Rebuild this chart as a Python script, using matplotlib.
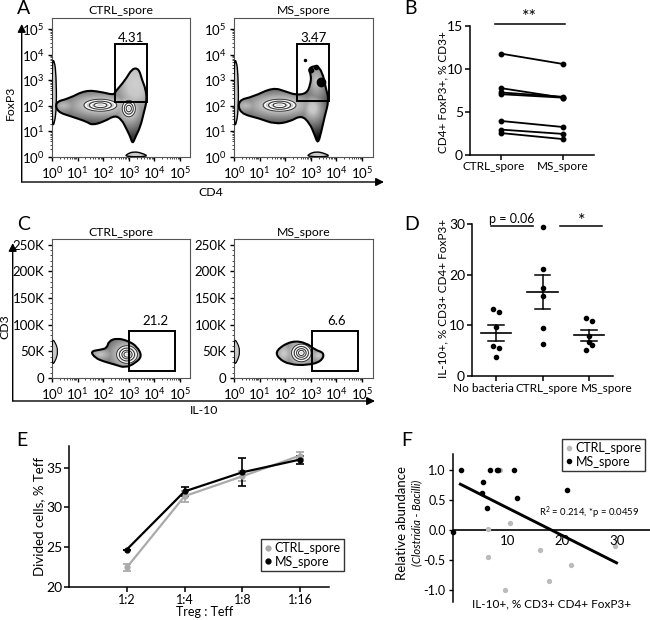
import numpy as np
import matplotlib
matplotlib.use('Agg')
import matplotlib.pyplot as plt
from matplotlib.lines import Line2D
from matplotlib.patches import PathPatch, Rectangle
from matplotlib.path import Path

plt.rcParams['font.family'] = ['Lato', 'DejaVu Sans']
plt.rcParams['mathtext.default'] = 'regular'
plt.rcParams['font.size'] = 9

W, H = 650, 620

# panel B
groups_b = ['CTRL_spore', 'MS_spore']
foxp3_ctrl = [11.8, 7.8, 7.3, 7.1, 4.0, 3.0, 2.6]
foxp3_ms = [10.6, 6.7, 6.8, 6.7, 3.3, 2.5, 1.9]

# panel D
groups_d = ['No bacteria', 'CTRL_spore', 'MS_spore']
il10_none = [13.15, 12.55, 9.6, 5.95, 5.4, 3.7]
il10_none_pos = [-0.06, 0.06, 0, -0.06, 0.06, 0]
il10_ctrl = [29.4, 21.2, 17.3, 15.7, 9.4, 6.3]
il10_ctrl_pos = [0, 0, 0, 0, 0, 0]
il10_ms = [11.4, 10.8, 7.8, 6.6, 6.0, 5.1]
il10_ms_pos = [-0.06, 0.06, 0, 0, 0.06, -0.06]
il10_mean = [8.5, 16.5, 8.0]
il10_hi = [10.0, 19.9, 9.1]
il10_lo = [6.9, 13.2, 6.9]

# panel E
ratios = ['1:2', '1:4', '1:8', '1:16']
div_ctrl = [22.45, 31.4, 33.9, 36.5]
div_ctrl_err = [0.4, 0.7, 0.6, 0.4]
div_ms = [24.7, 32.0, 34.4, 36.0]
div_ms_err = [0.0, 0.6, 1.75, 0.5]

# panel F
f_ctrl_x = [8.6, 6.5, 10.5, 6.5, 9.6, 16.0, 17.6, 21.5, 29.7]
f_ctrl_y = [1.0, 0.02, 0.11, -0.45, -1.0, -0.33, -0.85, -0.58, -0.27]
f_ms_x = [1.5, 6.8, 8.0, 8.2, 11.2, 5.5, 5.3, 6.3, 11.8, 20.8, 0.1]
f_ms_y = [1.0, 1.0, 1.0, 1.0, 1.0, 0.81, 0.61, 0.36, 0.53, 0.66, -0.03]
f_fit_x = [1.4, 29.9]
f_fit_y = [0.765, -0.55]

# flow plots: outlines (log10 units)
a1_outline = [(.13, 2.15), (.65, 2.28), (1.30, 2.61), (1.89, 2.55), (2.41, 2.42), (2.47, 2.55),
              (2.86, 3.0), (3.13, 3.46), (3.39, 3.46), (3.52, 3.0), (3.65, 2.68), (3.71, 2.22),
              (3.58, 1.70), (3.45, 1.17), (3.26, .78), (3.15, .50), (3.06, .78), (2.90, 1.11),
              (2.73, 1.44), (2.47, 1.63), (2.02, 1.37), (1.56, 1.24), (1.37, 1.37), (.78, 1.57), (.20, 1.76)]
a1_peaks = [(1.89, 2.02, .6, .22, 0), (3.0, 1.89, .24, .3, 0), (3.25, 2.85, .4, .6, .2), (.45, 2.0, .5, .25, 1.2)]
a2_outline = [(.16, 2.22), (.74, 2.35), (1.52, 2.72), (2.04, 2.55), (2.43, 2.42), (2.83, 2.48),
              (2.98, 2.81), (3.02, 3.2), (2.89, 3.46), (3.22, 3.59), (3.45, 3.33), (3.58, 2.72),
              (3.71, 2.22), (3.54, 1.57), (3.41, .98), (3.28, .50), (3.15, .85), (2.96, 1.31),
              (2.63, 1.63), (2.17, 1.37), (1.59, 1.28), (1.0, 1.5), (.22, 1.7)]
a2_peaks = [(1.78, 2.02, .6, .22, 0), (3.06, 1.89, .22, .28, .4), (3.2, 2.95, .25, .5, 1.0), (.45, 2.0, .5, .25, 1.2)]
side_a = [(0, 1.2), (.1, 1.3), (.18, 2.0), (.16, 3.2), (.1, 3.75), (0, 3.8)]
side_a_peaks = [(.05, 2.2, .12, 1.6, 0.2)]
bottom_a = [(2.85, 0), (2.95, .12), (3.2, .2), (3.5, .15), (3.8, 0)]
bottom_a_peaks = [(3.25, .03, .35, .2, 0.3)]

c1_outline = [(1.5, 50), (1.89, 53), (2.15, 56), (2.21, 69), (2.54, 75), (3.0, 69), (3.32, 59), (3.52, 41),
              (3.26, 28), (2.86, 19), (2.47, 25), (2.02, 31), (1.69, 37.5)]
c1_peaks = [(2.93, 44, .32, 13, 0), (1.9, 44, .4, 10, 1.0)]
c2_outline = [(1.63, 52), (2.24, 70), (2.83, 66), (3.15, 53), (3.54, 47), (3.41, 31), (2.89, 24), (2.17, 25), (1.72, 37)]
c2_peaks = [(2.63, 47, .3, 13, 0), (3.3, 42, .25, 9, .8), (1.95, 46, .25, 14, .7)]
side_c = [(0, 25), (.12, 30), (.25, 50), (.12, 68), (0, 73)]
side_c_peaks = [(.05, 50, .12, 18, 0.2)]


def axes_px(left, top, right, bottom):
    return fig.add_axes([left / W, 1 - bottom / H, (right - left) / W, (bottom - top) / H])


def txt(x, y, s, **kw):
    kw.setdefault('ha', 'center')
    kw.setdefault('va', 'center')
    return fig.text(x / W, 1 - y / H, s, **kw)


def blob_path(pts):
    # closed curve through the midpoints of the read outline
    pts = np.array(pts, dtype=float)
    mids = (pts + np.roll(pts, -1, axis=0)) / 2
    verts = [mids[-1]]
    codes = [Path.MOVETO]
    for p, m in zip(pts, mids):
        verts += [p, m]
        codes += [Path.CURVE3, Path.CURVE3]
    return Path(verts, codes)


def blob(ax, outline, peaks, xr, yr, rings=(.3, .6, .95), lw=1.5):
    path = blob_path(outline)
    X, Y = np.meshgrid(np.linspace(xr[0], xr[1], 300), np.linspace(yr[0], yr[1], 300))
    dists = [np.hypot((X - q[0]) / q[2], (Y - q[1]) / q[3]) + q[4] for q in peaks]
    field = np.min(dists, axis=0)
    gray = np.interp(field, [0, 1.0, 1.8, 3.0, 4.5], [.82, .78, .62, .38, .05])
    im = ax.imshow(gray, extent=(xr[0], xr[1], yr[0], yr[1]), origin='lower', aspect='auto',
                   cmap='gray', vmin=0, vmax=1, zorder=2)
    patch = PathPatch(path, fc='none', ec='black', lw=lw, zorder=5)
    ax.add_patch(patch)
    im.set_clip_path(patch)
    sharp = [d for d, q in zip(dists, peaks) if q[4] == 0]
    for d in sharp:
        if not rings:
            continue
        cs = ax.contour(X, Y, d, levels=list(rings), colors='white', linewidths=1.0, zorder=3)
        cs.set_clip_path(patch)
        cs2 = ax.contour(X, Y, d, levels=[r + .12 for r in rings], colors='#333333', linewidths=.7, zorder=3)
        cs2.set_clip_path(patch)


def flow_axes(left, top, right, bottom, title, title_y):
    ax = axes_px(left, top, right, bottom)
    ax.set_xlim(0, (right - left) / 25.6)
    for s in ax.spines.values():
        s.set_linewidth(.8)
        s.set_color('#555555')
    ax.set_xticks(range(6))
    ax.set_xticklabels(['$10^{%d}$' % i for i in range(6)], fontsize=9.5)
    minor = [k + np.log10(m) for k in range(5) for m in range(2, 10)]
    ax.set_xticks(minor, minor=True)
    ax.tick_params(axis='both', which='major', length=3, width=1, pad=2.5)
    ax.tick_params(axis='both', which='minor', length=1.5, width=.5)
    txt((left + right) / 2, title_y, title, fontsize=8.8)
    return ax


def gate(ax, x0, x1, y0, y1):
    ax.add_patch(Rectangle((x0, y0), x1 - x0, y1 - y0, fc='none', ec='black', lw=1.4, zorder=6))


fig = plt.figure(figsize=(W / 100, H / 100), dpi=100)

# A
for left, right, title, outline, peaks, g, lab in [
        (52, 190, 'CTRL_spore', a1_outline, a1_peaks, (2.45, 3.71, 2.15, 4.41), '4.31'),
        (234, 373, 'MS_spore', a2_outline, a2_peaks, (2.47, 3.71, 2.17, 4.41), '3.47')]:
    ax = flow_axes(left, 18, right, 157, title, 10)
    ax.set_ylim(-0.01, 5.44)
    ax.set_yticks(range(6))
    ax.set_yticklabels(['$10^{%d}$' % i for i in range(6)], fontsize=9.5)
    ax.set_yticks([k + np.log10(m) for k in range(5) for m in range(2, 10)], minor=True)
    blob(ax, outline, peaks, (0, 4), (0, 4.2))
    blob(ax, side_a, side_a_peaks, (0, .4), (1, 4), rings=(), lw=1.0)
    blob(ax, bottom_a, bottom_a_peaks, (2.7, 3.9), (0, .3), rings=(), lw=1.0)
    gate(ax, g[0], g[1], g[2], g[3])
    ax.text((g[0] + g[1]) / 2 + .02, 4.65, lab, ha='center', va='center', fontsize=9.5)
    ax.set_xlim(0, (right - left) / 25.6)
    ax.set_ylim(-0.01, 5.44)
    if title == 'MS_spore':
        ax.plot([2.79], [3.79], 'o', color='black', ms=1.5, zorder=6)
        ax.plot([3.41], [2.95], 'o', color='black', ms=6, zorder=6)
        ax.plot([3.0, 3.2], [3.42, 3.5], 'o', color='black', ms=3, zorder=6)

# C
for left, right, title, outline, peaks, g, lab, lx in [
        (52, 190, 'CTRL_spore', c1_outline, c1_peaks, (3.02, 4.82, 12.5, 88.7), '21.2', 4.04),
        (234, 373, 'MS_spore', c2_outline, c2_peaks, (3.06, 4.84, 12.5, 89), '6.6', 4.0)]:
    ax = flow_axes(left, 239, right, 378, title, 232)
    ax.set_ylim(0, 260.6)
    ax.set_yticks(range(0, 251, 50))
    ax.set_yticklabels(['0', '50K', '100K', '150K', '200K', '250K'], fontsize=9.5)
    ax.set_yticks(range(0, 251, 10), minor=True)
    blob(ax, outline, peaks, (1.3, 3.7), (15, 80), rings=(.25, .5, .8, 1.15))
    blob(ax, side_c, side_c_peaks, (0, .4), (20, 80), rings=(), lw=.8)
    gate(ax, g[0], g[1], g[2], g[3])
    ax.text(lx, 107, lab, ha='center', va='center', fontsize=9.5)
    ax.set_xlim(0, (right - left) / 25.6)
    ax.set_ylim(0, 260.6)


def plain_axes(left, top, right, bottom):
    ax = axes_px(left, top, right, bottom)
    ax.spines['top'].set_visible(False)
    ax.spines['right'].set_visible(False)
    ax.spines['left'].set_linewidth(1.1)
    ax.spines['bottom'].set_linewidth(1.1)
    ax.tick_params(length=3.5, width=1.1, pad=1.5, labelsize=10)
    return ax


# B
ax = plain_axes(470, 26, 594, 155.5)
ax.set_xlim(-0.5, 1.5)
ax.set_ylim(0, 15)
for a, b in zip(foxp3_ctrl, foxp3_ms):
    ax.plot([0, 1], [a, b], '-o', color='black', lw=1.3, ms=3.2, clip_on=False)
ax.set_xticks([0, 1])
ax.set_xticklabels([])
ax.set_yticks([0, 5, 10, 15])
ax.plot([-0.1, 1.03], [15.2, 15.2], color='black', lw=1.1, clip_on=False)
txt(529, 17, '**', fontsize=13)
txt(494, 166, groups_b[0], fontsize=8.5)
txt(563, 166, groups_b[1], fontsize=8.5)
txt(443, 92, 'CD4+ FoxP3+, % CD3+', rotation=90, fontsize=8.5)

# D
ax = plain_axes(472, 224.3, 613, 375.7)
ax.set_xlim(-0.516, 2.516)
ax.set_ylim(0, 30)
for i, (pos, vals) in enumerate([(il10_none_pos, il10_none), (il10_ctrl_pos, il10_ctrl), (il10_ms_pos, il10_ms)]):
    ax.plot(np.array(pos) + i, vals, 'o', color='black', ms=3.0, clip_on=False)
    ax.plot([i - .33, i + .33], [il10_mean[i]] * 2, color='black', lw=1.2)
    ax.plot([i, i], [il10_lo[i], il10_hi[i]], color='black', lw=1.1)
    for e in (il10_lo[i], il10_hi[i]):
        ax.plot([i - .17, i + .17], [e, e], color='black', lw=1.1)
ax.set_xticks([0, 1, 2])
ax.set_xticklabels([])
ax.set_yticks([0, 10, 20, 30])
ax.plot([-0.11, 0.79], [29.7, 29.7], color='black', lw=1.1, clip_on=False)
ax.plot([1.38, 2.29], [29.7, 29.7], color='black', lw=1.1, clip_on=False)
txt(512, 219, 'p = 0.06', fontsize=9)
txt(582, 221, '*', fontsize=13)
txt(483, 388, groups_d[0], fontsize=8.5)
txt(547, 388, groups_d[1], fontsize=8.5)
txt(607, 388, groups_d[2], fontsize=8.5)
txt(443, 298, 'IL-10+, % CD3+ CD4+ FoxP3+', rotation=90, fontsize=8.5)

# E
ax = plain_axes(69, 446, 329, 587)
ax.set_xlim(-1, 3.5)
ax.set_ylim(20, 37.7)
xs = range(len(ratios))
ax.errorbar(xs, div_ctrl, yerr=div_ctrl_err, color='#aaaaaa', lw=1.6, marker='o', ms=3.5, capsize=3, capthick=1.3, elinewidth=1.3)
ax.errorbar(xs, div_ms, yerr=div_ms_err, color='black', lw=1.6, marker='o', ms=3.5, capsize=3, capthick=1.2, elinewidth=1.2)
ax.set_xticks(list(xs))
ax.set_xticklabels(ratios, fontsize=9)
ax.set_yticks([20, 25, 30, 35])
txt(205, 612, 'Treg : Teff', fontsize=9)
txt(39, 517, 'Divided cells, % Teff', rotation=90, fontsize=9.5)
handles = [Line2D([], [], ls='', marker='o', color='#aaaaaa', ms=3.5), Line2D([], [], ls='', marker='o', color='black', ms=3.5)]
fig.legend(handles, ['CTRL_spore', 'MS_spore'], loc='center', bbox_to_anchor=(302.5 / W, 1 - 555 / H),
           fontsize=9, frameon=True, fancybox=False, edgecolor='#333333', framealpha=1, borderpad=.25,
           handlelength=.5, handletextpad=.3, labelspacing=.1, borderaxespad=0)

# F
ax = axes_px(452.7, 454, 650, 601.7)
ax.set_xlim(0, 36)
ax.set_ylim(-1.2, 1.27)
ax.spines['top'].set_visible(False)
ax.spines['right'].set_visible(False)
ax.spines['bottom'].set_visible(False)
ax.spines['left'].set_linewidth(1.1)
ax.axhline(0, color='black', lw=1.2, zorder=1)
ax.plot(f_ctrl_x, f_ctrl_y, 'o', color='#bbbbbb', ms=2.8, clip_on=False, zorder=2)
ax.plot(f_ms_x, f_ms_y, 'o', color='black', ms=3, clip_on=False, zorder=3)
ax.plot(f_fit_x, f_fit_y, color='black', lw=2.1, zorder=4)
ax.set_xticks([10, 20, 30])
ax.set_xticklabels([])
ax.set_yticks([-1, -.5, 0, .5, 1])
ax.set_yticklabels(['-1.0', '-0.5', '0.0', '0.5', '1.0'], fontsize=9)
ax.tick_params(axis='x', length=0)
ax.tick_params(axis='y', length=3, width=1, pad=2)
for v in ax.get_xticks():
    ax.text(v, -0.18, '%d' % v, ha='center', va='center', fontsize=9.5)
txt(589, 513, 'R$^2$ = 0.214, *p = 0.0459', fontsize=6.8)
txt(552, 604, 'IL-10+, % CD3+ CD4+ FoxP3+', fontsize=8.5)
txt(402, 523, 'Relative abundance', rotation=90, fontsize=9.5)
txt(417, 523, '(Clostridia - Bacilli)', rotation=90, fontsize=8, style='italic')
handles = [Line2D([], [], ls='', marker='o', color='#bbbbbb', ms=3), Line2D([], [], ls='', marker='o', color='black', ms=3)]
fig.legend(handles, ['CTRL_spore', 'MS_spore'], loc='center', bbox_to_anchor=(603.5 / W, 1 - 455 / H),
           fontsize=9, frameon=True, fancybox=False, edgecolor='#333333', framealpha=1, borderpad=.25,
           handlelength=.5, handletextpad=.3, labelspacing=.1, borderaxespad=0)

# big axis arrows and panel letters on a pixel overlay
ov = fig.add_axes([0, 0, 1, 1], zorder=10)
ov.set_xlim(0, W)
ov.set_ylim(H, 0)
ov.axis('off')
for start, end in [((21.7, 182), (21.7, 24)), ((21.7, 182), (384, 182)),
                   ((12.7, 401), (12.7, 243)), ((12.7, 401), (375, 401))]:
    ov.annotate('', xy=end, xytext=start,
                arrowprops=dict(arrowstyle='-|>', color='black', lw=1.0, mutation_scale=12, shrinkA=0, shrinkB=0))
txt(10, 103, 'FoxP3', rotation=90, fontsize=8.8)
txt(211, 192, 'CD4', fontsize=8.8)
txt(5, 327, 'CD3', rotation=90, fontsize=8.8)
txt(204, 411, 'IL-10', fontsize=8.8)
for x, y, s in [(24, 8, 'A'), (411, 9, 'B'), (24, 224, 'C'), (412, 224, 'D'), (22, 441, 'E'), (407, 440, 'F')]:
    txt(x, y, s, fontsize=14)

fig.savefig('out.png', dpi=100)
